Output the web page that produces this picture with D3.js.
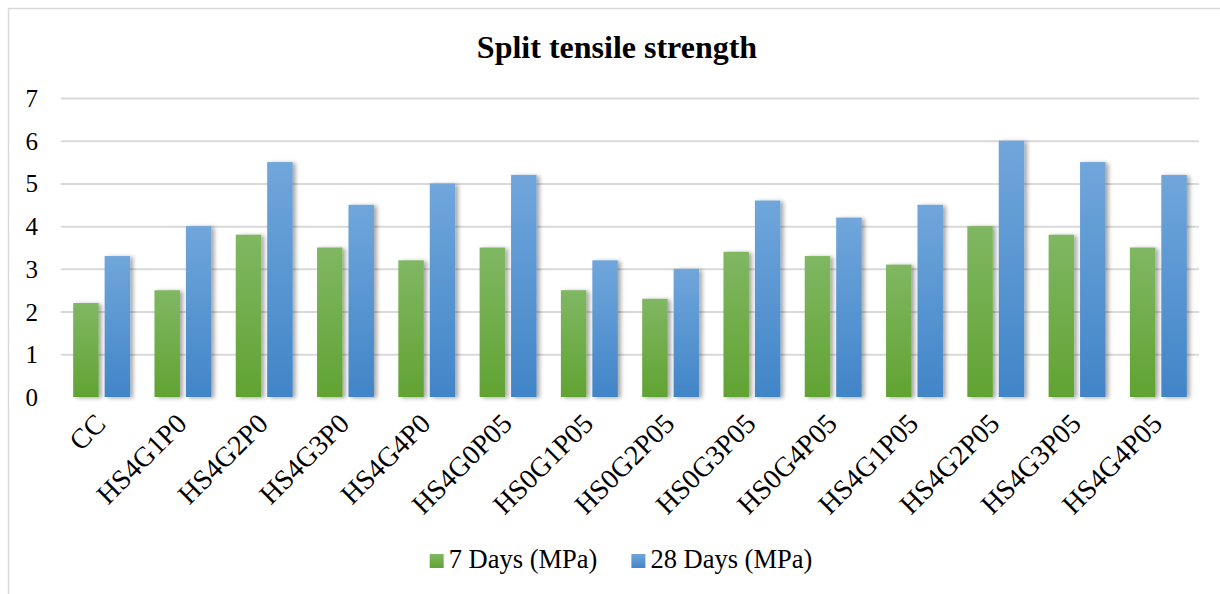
<!DOCTYPE html>
<html>
<head>
<meta charset="utf-8">
<script src="https://cdn.jsdelivr.net/npm/d3@7"></script>
<style>
  body { margin: 0; background: #fff; }
  svg { display: block; font-family: "Liberation Serif", "Times New Roman", serif; }
</style>
</head>
<body>
<div id="chart"></div>
<script>
// chart data
var categories = ["CC", "HS4G1P0", "HS4G2P0", "HS4G3P0", "HS4G4P0", "HS4G0P05", "HS0G1P05",
                  "HS0G2P05", "HS0G3P05", "HS0G4P05", "HS4G1P05", "HS4G2P05", "HS4G3P05", "HS4G4P05"];
var days7 = [2.2, 2.5, 3.8, 3.5, 3.2, 3.5, 2.5, 2.3, 3.4, 3.3, 3.1, 4.0, 3.8, 3.5];
var days28 = [3.3, 4.0, 5.5, 4.5, 5.0, 5.2, 3.2, 3.0, 4.6, 4.2, 4.5, 6.0, 5.5, 5.2];
var seriesNames = ["7 Days (MPa)", "28 Days (MPa)"];
var yTicks = [0, 1, 2, 3, 4, 5, 6, 7];

var W = 1220, H = 594;
var margin = {top: 98, right: 21, bottom: 197, left: 61};
var width = W - margin.left - margin.right,
    height = H - margin.top - margin.bottom;

var colors = [
  {top: "#80b763", bottom: "#61a332"},
  {top: "#70a6db", bottom: "#4185c8"}
];

var svg = d3.select("#chart").append("svg")
    .attr("width", W)
    .attr("height", H);

var defs = svg.append("defs");
colors.forEach(function(c, i) {
  var g = defs.append("linearGradient")
      .attr("id", "grad" + i)
      .attr("x1", 0).attr("y1", 0).attr("x2", 0).attr("y2", 1);
  g.append("stop").attr("offset", "0%").attr("stop-color", c.top);
  g.append("stop").attr("offset", "100%").attr("stop-color", c.bottom);
});
defs.append("filter")
    .attr("id", "shadow")
    .attr("x", "-30%").attr("y", "-10%").attr("width", "160%").attr("height", "120%")
  .append("feDropShadow")
    .attr("dx", 3).attr("dy", 1)
    .attr("stdDeviation", 2)
    .attr("flood-color", "#000")
    .attr("flood-opacity", 0.35);

// outer chart border
svg.append("rect")
    .attr("x", 8.5).attr("y", 8.5)
    .attr("width", 1400).attr("height", 800)
    .attr("fill", "none")
    .attr("stroke", "#d9d9d9")
    .attr("stroke-width", 1.5);

var g = svg.append("g")
    .attr("transform", "translate(" + margin.left + "," + margin.top + ")");

// scales
var x0 = d3.scaleBand()
    .domain(categories)
    .range([0, width])
    .paddingInner(0.3)
    .paddingOuter(0.15);

var x1 = d3.scaleBand()
    .domain([0, 1])
    .range([0, x0.bandwidth()])
    .paddingInner(0.19);

var y = d3.scaleLinear()
    .domain([0, 7])
    .range([height, 0]);

// gridlines
g.append("g")
    .attr("class", "grid")
    .call(d3.axisLeft(y).tickValues(yTicks.slice(1)).tickSize(-width).tickFormat(""))
    .call(function(s) {
      s.select(".domain").remove();
      s.selectAll("line").attr("stroke", "#d9d9d9").attr("stroke-width", 2);
    });

// y axis labels
g.append("g")
    .attr("class", "axis axis--y")
    .call(d3.axisLeft(y).tickValues(yTicks).tickFormat(d3.format("d")).tickSize(0).tickPadding(23))
    .call(function(s) {
      s.select(".domain").remove();
      s.attr("font-family", null);
      s.selectAll("text")
          .attr("font-size", 25)
          .attr("fill", "#000")
          .attr("dy", "0.34em");
    });

// baseline
g.append("line")
    .attr("x1", 0).attr("x2", width)
    .attr("y1", y(0)).attr("y2", y(0))
    .attr("stroke", "#d4d4d4")
    .attr("stroke-width", 2.5)
    .attr("filter", "url(#shadow)");

// bars
var seriesData = [days7, days28];
var groups = g.selectAll(".cat")
    .data(categories)
    .enter().append("g")
    .attr("class", "cat")
    .attr("transform", function(d) { return "translate(" + x0(d) + ",0)"; });

groups.selectAll("rect")
    .data(function(d, i) { return seriesData.map(function(s, k) { return {k: k, v: s[i]}; }); })
    .enter().append("rect")
    .attr("x", function(d) { return x1(d.k); })
    .attr("width", x1.bandwidth())
    .attr("y", function(d) { return y(d.v); })
    .attr("height", function(d) { return y(0) - y(d.v); })
    .attr("fill", function(d) { return "url(#grad" + d.k + ")"; })
    .attr("filter", "url(#shadow)");

// category labels
g.append("g")
    .attr("class", "axis axis--x")
    .selectAll("text")
    .data(categories)
    .enter().append("text")
    .attr("transform", function(d) {
      return "translate(" + (x0(d) + x0.bandwidth() / 2 - 8) + "," + (height + 15) + ") rotate(-45)";
    })
    .attr("text-anchor", "end")
    .attr("dy", "0.68em")
    .attr("font-size", 28)
    .attr("fill", "#000")
    .text(function(d) { return d; });

// title
svg.append("text")
    .attr("x", 617)
    .attr("y", 58)
    .attr("text-anchor", "middle")
    .attr("font-size", 32)
    .attr("font-weight", "bold")
    .text("Split tensile strength");

// legend
var legend = svg.append("g").attr("class", "legend");
var items = legend.selectAll("g")
    .data(seriesNames)
    .enter().append("g");
items.append("rect")
    .attr("width", 14).attr("height", 14)
    .attr("y", -14)
    .attr("fill", function(d, i) { return "url(#grad" + i + ")"; });
items.append("text")
    .attr("x", 19)
    .attr("y", 0)
    .attr("font-size", 26.5)
    .text(function(d) { return d; });

var offsets = [], pos = 0;
items.each(function() {
  offsets.push(pos);
  pos += 19 + this.querySelector("text").getComputedTextLength() + 34;
});
var total = pos - 34;
var startX = 621 - total / 2;
items.attr("transform", function(d, i) { return "translate(" + (startX + offsets[i]) + ",568)"; });
</script>
</body>
</html>
